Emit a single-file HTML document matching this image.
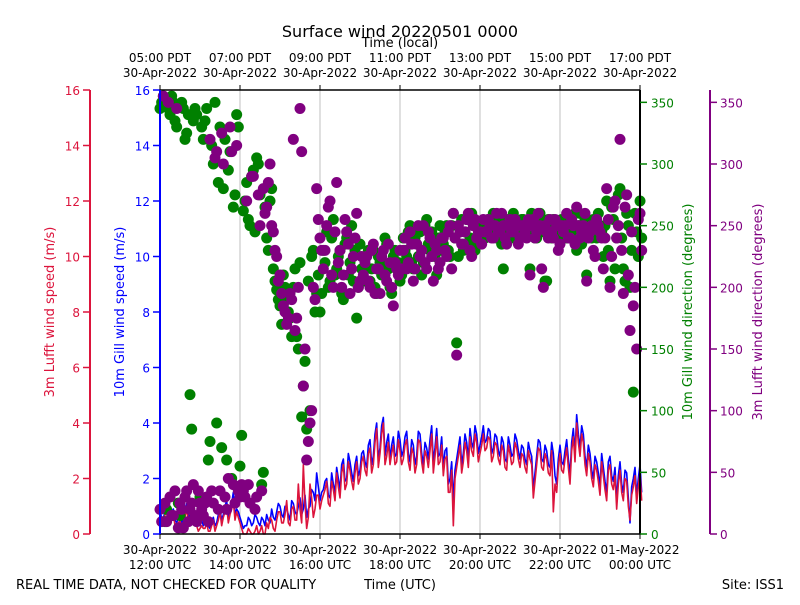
<!DOCTYPE html>
<html><head><meta charset="utf-8"><style>
body{margin:0;background:#fff;}
svg{font-family:"DejaVu Sans","Liberation Sans",sans-serif;}
</style></head><body>
<svg id="c" width="800" height="600" xmlns="http://www.w3.org/2000/svg">
<rect width="800" height="600" fill="#fff"/>
<text x="400" y="37" text-anchor="middle" font-size="16">Surface wind 20220501 0000</text>
<text x="400" y="47" text-anchor="middle" font-size="13">Time (local)</text>
<text x="400" y="589" text-anchor="middle" font-size="13">Time (UTC)</text>
<text x="16" y="589" font-size="13">REAL TIME DATA, NOT CHECKED FOR QUALITY</text>
<text x="784" y="589" text-anchor="end" font-size="13">Site: ISS1</text>
<g id="grid"></g><g id="marks"></g><g id="axes"></g>
<text transform="translate(54,312) rotate(-90)" text-anchor="middle" font-size="13" fill="#dc143c">3m Lufft wind speed (m/s)</text>
<text transform="translate(124,312) rotate(-90)" text-anchor="middle" font-size="13" fill="#0000ff">10m Gill wind speed (m/s)</text>
<text transform="translate(692,312) rotate(-90)" text-anchor="middle" font-size="13" fill="#008000">10m Gill wind direction (degrees)</text>
<text transform="translate(762,312) rotate(-90)" text-anchor="middle" font-size="13" fill="#800080">3m Lufft wind direction (degrees)</text>
</svg>
<script>
const gillSpeed=[0.8,0.5,1.0,0.6,0.9,0.4,0.7,0.5,1.1,0.6,0.8,0.4,0.3,
0.3,0.5,0.2,0.6,0.4,0.9,0.7,1.2,0.8,1.5,0.9,0.6,
0.2,0.3,0.5,0.4,0.6,0.3,0.5,0.7,0.4,0.6,0.8,1.0,
0.6,0.9,0.5,1.1,0.7,1.3,0.9,0.6,1.0,1.5,2.2,1.2,
1.6,2.0,1.3,1.8,2.4,1.6,2.7,2.0,2.6,1.9,2.8,2.3,
3.0,2.4,3.4,2.8,4.0,3.1,4.2,3.3,2.7,3.5,2.9,3.4,
3.0,3.7,2.6,3.2,2.8,3.6,2.5,3.1,3.4,2.6,3.8,2.9,
2.4,3.1,2.0,1.2,2.7,3.5,2.9,3.3,3.8,3.1,3.6,3.2,
3.9,3.4,3.7,3.1,3.5,2.8,3.3,2.6,3.2,2.9,3.4,2.7,
3.1,2.5,3.0,1.6,2.8,3.3,2.6,3.0,2.4,2.9,1.8,3.2,
2.5,3.4,2.1,3.8,4.3,3.1,3.6,2.4,2.9,2.0,2.6,1.7,
2.4,1.5,2.8,1.9,1.2,2.6,1.5,2.2,0.4,2.0,1.4,2.5];
const gillSpeedB=[0.6,0.9,0.7,0.8,0.5,0.6,0.4,0.8,0.7,0.9,0.5,0.3,0.5,
0.4,0.3,0.5,0.3,0.7,0.5,1.0,0.6,1.1,0.7,0.8,0.4,
0.3,0.6,0.3,0.7,0.4,0.6,0.3,0.5,0.9,0.5,1.1,0.7,
1.0,0.7,1.2,0.8,1.0,0.7,1.4,0.9,1.6,1.2,1.7,1.5,
1.9,1.4,2.2,1.5,2.0,2.5,1.9,2.9,2.2,2.5,2.1,2.9,
2.6,3.2,2.5,3.6,2.7,3.9,2.8,3.6,3.2,2.8,3.7,2.8,
3.5,2.9,3.4,2.5,3.7,2.9,3.3,2.7,3.9,3.1,2.8,3.5,
3.0,1.8,2.6,2.3,3.1,2.5,3.6,2.7,3.3,3.9,2.9,3.5,
3.3,3.8,2.9,3.6,3.0,3.5,2.7,3.5,2.8,3.6,3.0,3.2,
2.7,3.3,2.8,2.2,3.4,2.7,3.2,2.5,3.3,2.1,2.7,2.6,
3.0,2.7,3.3,2.9,3.6,3.9,2.8,3.2,2.3,2.8,2.2,2.9,
1.9,2.6,2.1,2.4,2.1,1.8,2.3,1.3,1.7,2.4,2.0,1.5];
const lufftSpeed=[0.6,0.3,0.8,0.5,0.7,0.2,0.5,0.4,0.9,0.5,0.6,0.3,0.2,
0.2,0.4,0.1,0.5,0.3,0.8,0.6,1.0,0.7,1.2,0.8,0.4,
0.0,0.0,0.1,0.0,0.3,0.1,0.0,0.4,0.6,0.2,0.5,0.8,
0.4,1.2,0.3,1.0,0.5,0.9,2.5,0.2,1.8,0.6,1.4,0.9,
1.4,1.9,1.0,1.6,2.2,1.3,2.5,1.8,2.3,1.6,2.6,2.0,
2.8,2.1,3.1,2.5,3.8,2.9,4.0,2.8,2.5,3.2,2.6,3.0,
2.7,3.4,2.3,2.9,2.5,3.3,2.2,2.8,3.0,2.2,3.5,2.6,
2.1,2.8,1.5,0.3,2.4,3.2,2.6,3.0,3.5,2.8,3.3,2.9,
3.6,3.1,3.4,2.8,3.2,2.5,3.0,2.3,2.9,2.6,3.1,2.4,
2.8,2.2,2.7,1.3,2.5,3.0,2.3,2.7,2.1,0.8,1.5,2.9,
2.2,3.1,1.8,3.5,4.0,2.8,3.3,2.1,2.6,1.7,2.3,1.4,
2.1,1.2,2.5,1.6,0.9,2.3,1.2,1.9,0.5,1.7,1.1,2.2];
const lufftSpeedB=[0.4,0.7,0.5,0.6,0.3,0.4,0.2,0.6,0.5,0.7,0.3,0.1,0.3,
0.2,0.1,0.3,0.1,0.5,0.3,0.8,0.4,0.9,0.5,0.6,0.2,
0.0,0.2,0.0,0.1,0.0,0.3,0.0,0.2,0.5,0.1,0.8,0.4,
0.7,0.4,0.9,0.5,1.8,0.4,1.1,0.6,1.3,0.9,1.4,1.2,
1.6,1.1,1.9,1.2,1.7,2.2,1.6,2.6,1.9,2.2,1.8,2.6,
2.3,2.9,2.2,3.3,2.4,3.6,2.5,3.3,2.9,2.5,3.4,2.5,
3.2,2.6,3.1,2.2,3.4,2.6,3.0,2.4,3.6,2.8,2.5,3.2,
2.7,1.5,2.3,2.0,2.8,2.2,3.3,2.4,3.0,3.6,2.6,3.2,
3.0,3.5,2.6,3.3,2.7,3.2,2.4,3.2,2.5,3.3,2.7,2.9,
2.4,3.0,2.5,1.9,3.1,2.4,2.9,2.2,3.0,1.8,2.4,2.3,
2.7,2.4,3.0,2.6,3.3,3.6,2.5,2.9,2.0,2.5,1.9,2.6,
1.6,2.3,1.8,2.1,1.8,1.5,2.0,1.0,1.4,2.1,1.7,1.2];
const gillDir=[345,355,20,340,350,330,15,345,325,113,335,340,30,
320,345,75,300,90,330,280,60,310,265,340,55,
262,285,250,295,305,275,50,240,270,215,198,185,
210,190,175,200,160,220,120,85,100,230,195,180,
230,245,205,255,215,230,190,240,220,205,175,235,
215,225,205,230,195,220,210,235,200,225,215,205,
240,225,250,215,235,245,220,255,230,240,210,250,
235,250,225,260,155,245,230,255,240,250,235,245,
250,245,255,260,240,250,215,255,245,260,250,240,
255,245,215,250,240,260,250,205,245,255,250,240,
250,240,255,245,230,260,250,210,245,255,240,250,
225,270,205,255,240,280,215,260,200,115,245,270];
const gillDirB=[350,10,345,355,335,25,350,320,340,85,345,15,330,
335,60,315,350,285,70,320,295,45,275,330,80,
270,255,290,245,300,40,265,230,280,205,190,170,
200,180,160,215,150,95,140,205,225,180,210,195,
220,200,240,210,225,195,235,210,250,230,200,215,
205,230,215,200,225,210,240,215,195,230,220,210,
230,245,220,240,225,210,250,235,245,225,240,230,
245,230,250,240,225,255,245,235,260,230,250,240,
240,255,250,245,255,235,245,250,240,255,245,255,
245,250,260,240,255,245,205,255,240,250,245,255,
255,245,240,260,250,235,255,245,240,250,260,245,
250,230,265,215,275,240,205,250,230,260,225,240];
const lufftDir=[20,355,10,30,15,345,25,5,35,20,40,10,25,
15,30,320,25,310,35,300,20,330,40,315,30,
35,270,25,290,30,250,280,265,300,245,225,210,
185,170,195,320,175,345,120,60,90,200,280,240,
215,250,270,200,285,230,210,245,195,225,260,205,
210,225,200,235,215,195,230,205,220,185,215,230,
230,215,245,205,235,225,250,215,240,205,230,220,
240,225,250,260,145,245,235,255,230,250,240,245,
255,245,250,240,260,245,250,235,255,245,250,240,
250,240,210,255,245,250,200,245,255,240,250,235,
245,260,240,250,265,240,250,205,245,230,255,245,
215,280,200,265,240,320,195,275,165,185,150,260];
const lufftDirB=[10,25,350,15,35,5,20,30,10,25,15,35,20,
25,10,35,305,20,325,30,45,310,25,35,40,
30,40,290,20,275,35,260,285,250,230,205,195,
180,175,190,165,200,310,150,75,100,190,255,230,
230,265,210,245,220,200,255,235,215,240,200,225,
220,205,230,195,215,225,210,235,200,220,210,215,
240,220,235,215,250,230,220,245,225,235,215,240,
230,245,215,240,250,235,245,260,225,255,245,235,
245,255,240,250,245,260,240,250,245,255,235,250,
245,255,250,240,260,215,250,240,245,255,230,250,
250,240,255,235,250,245,260,240,250,225,250,240,
240,255,225,270,250,230,265,210,245,200,255,230];
const speedTicks=[0,2,4,6,8,10,12,14,16];
const dirTicks=[0,50,100,150,200,250,300,350];
const utcLabels=[["30-Apr-2022","12:00 UTC"],["30-Apr-2022","14:00 UTC"],["30-Apr-2022","16:00 UTC"],["30-Apr-2022","18:00 UTC"],["30-Apr-2022","20:00 UTC"],["30-Apr-2022","22:00 UTC"],["01-May-2022","00:00 UTC"]];
const localLabels=[["05:00 PDT","30-Apr-2022"],["07:00 PDT","30-Apr-2022"],["09:00 PDT","30-Apr-2022"],["11:00 PDT","30-Apr-2022"],["13:00 PDT","30-Apr-2022"],["15:00 PDT","30-Apr-2022"],["17:00 PDT","30-Apr-2022"]];

const NS="http://www.w3.org/2000/svg";
const X0=160,X1=640,Y0=534,Y1=90;
const xOfMin=m=>X0+(X1-X0)*m/720;
const xOfIdx=i=>xOfMin(i*5);
const xOfIdxB=i=>xOfMin(i*5+2.5);
const ySpd=v=>Y0-(Y0-Y1)*v/16;
const yDir=v=>Y0-(Y0-Y1)*v/360;
function mk(tag,attrs,parent){const e=document.createElementNS(NS,tag);for(const k in attrs)e.setAttribute(k,attrs[k]);parent.appendChild(e);return e;}
const grid=document.getElementById('grid'),marks=document.getElementById('marks'),axes=document.getElementById('axes');
for(let k=1;k<6;k++){const gl=mk('line',{x1:xOfMin(k*120),x2:xOfMin(k*120),y1:Y1,y2:Y0,stroke:'#b0b0b0','stroke-width':0.8},grid);

}
function line(a,b,color,name){const pts=[];a.forEach((v,i)=>{pts.push(xOfIdx(i)+','+ySpd(v));if(i<b.length)pts.push(xOfIdxB(i)+','+ySpd(b[i]));});
const p=mk('polyline',{points:pts.join(' '),fill:'none',stroke:color,'stroke-width':1.6,'stroke-linejoin':'round'},marks);

}
line(gillSpeed,gillSpeedB,'#0000ff','gill-speed-line');
line(lufftSpeed,lufftSpeedB,'#dc143c','lufft-speed-line');
function dots(arr,xf,color,name){arr.forEach((v,i)=>{const c=mk('circle',{cx:xf(i),cy:yDir(v),r:5.5,fill:color},marks);

});}
dots(gillDir,xOfIdx,'#008000','gill-direction-point');
dots(gillDirB,xOfIdxB,'#008000','gill-direction-point');
dots(lufftDir,xOfIdx,'#800080','lufft-direction-point');
dots(lufftDirB,xOfIdxB,'#800080','lufft-direction-point');
mk('line',{x1:X0,x2:X1,y1:Y1,y2:Y1,stroke:'#000','stroke-width':1.5},axes);
mk('line',{x1:X0,x2:X1,y1:Y0,y2:Y0,stroke:'#000','stroke-width':1.5},axes);
mk('line',{x1:X0,x2:X0,y1:Y1,y2:Y0,stroke:'#0000ff','stroke-width':2},axes);
mk('line',{x1:X1,x2:X1,y1:Y1,y2:Y0,stroke:'#000','stroke-width':2},axes);
mk('line',{x1:90,x2:90,y1:Y1,y2:Y0,stroke:'#dc143c','stroke-width':2},axes);
mk('line',{x1:710,x2:710,y1:Y1,y2:Y0,stroke:'#800080','stroke-width':2},axes);
function txt(x,y,s,anchor,color,name){const t=mk('text',{x:x,y:y,'text-anchor':anchor,'font-size':12,fill:color},axes);t.textContent=s;

}
speedTicks.forEach(v=>{const y=ySpd(v);
mk('line',{x1:83,x2:90,y1:y,y2:y,stroke:'#dc143c','stroke-width':1.5},axes);
txt(80,y+5,String(v),'end','#dc143c','lufft-speed-tick-label');
mk('line',{x1:153,x2:160,y1:y,y2:y,stroke:'#0000ff','stroke-width':1.5},axes);
txt(150,y+5,String(v),'end','#0000ff','gill-speed-tick-label');});
dirTicks.forEach(v=>{const y=yDir(v);
mk('line',{x1:640,x2:647,y1:y,y2:y,stroke:'#008000','stroke-width':1.5},axes);
txt(651,y+5,String(v),'start','#008000','gill-direction-tick-label');
mk('line',{x1:710,x2:717,y1:y,y2:y,stroke:'#800080','stroke-width':1.5},axes);
txt(720,y+5,String(v),'start','#800080','lufft-direction-tick-label');});
utcLabels.forEach((l,k)=>{const x=xOfMin(k*120);
mk('line',{x1:x,x2:x,y1:Y0,y2:Y0+5,stroke:'#000'},axes);
txt(x,554,l[0],'middle','#000','utc-tick-label');txt(x,569,l[1],'middle','#000','utc-tick-label');});
localLabels.forEach((l,k)=>{const x=xOfMin(k*120);
mk('line',{x1:x,x2:x,y1:Y1-5,y2:Y1,stroke:'#000'},axes);
txt(x,62,l[0],'middle','#000','local-tick-label');txt(x,77,l[1],'middle','#000','local-tick-label');});
</script>
</body></html>
